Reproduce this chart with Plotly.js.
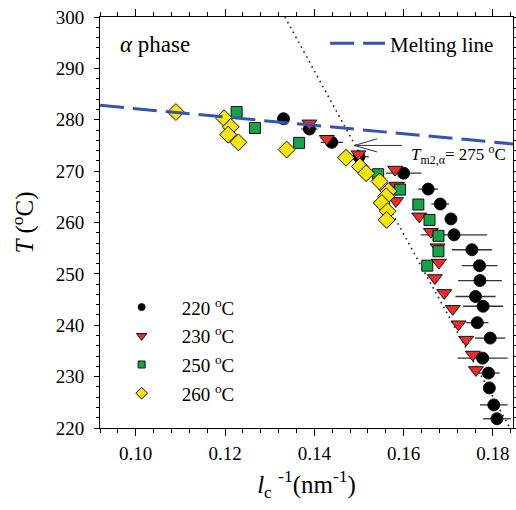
<!DOCTYPE html>
<html><head><meta charset="utf-8">
<script src="https://cdn.plot.ly/plotly-3.0.1.min.js"></script>
<style>html,body{margin:0;padding:0;background:#fff}#chart{width:516px;height:510px}</style>
</head><body><div id="chart"></div>
<script>
// 220 °C (black circles, with horizontal error bars)
const x220 = [0.1331, 0.1389, 0.1439, 0.1500, 0.1600, 0.1655, 0.1682, 0.1706, 0.1713, 0.1753, 0.1770, 0.1771, 0.1761, 0.1778, 0.1765, 0.1794, 0.1777, 0.1790, 0.1792, 0.1802, 0.1809];
const t220 = [280.2, 278.2, 275.6, 272.8, 269.6, 266.5, 263.6, 260.7, 257.6, 254.7, 251.6, 248.7, 245.6, 243.7, 240.5, 237.5, 233.6, 230.7, 227.8, 224.5, 221.8];
const e220 = [0, 0.0018, 0.0025, 0.0022, 0.0040, 0.0022, 0.0020, 0.0007, 0.0074, 0.0045, 0.0040, 0.0049, 0.0045, 0.0045, 0.0025, 0.0034, 0.0056, 0.0025, 0.0009, 0.0031, 0.0031];
// 230 °C (red down-triangles)
const x230 = [0.1389, 0.1428, 0.1499, 0.1581, 0.1585, 0.1583, 0.1635, 0.1661, 0.1676, 0.1679, 0.1670, 0.1691, 0.1710, 0.1723, 0.1740, 0.1755, 0.1762];
const t230 = [279.3, 276.3, 273.3, 270.3, 267.2, 264.2, 261.2, 258.2, 255.2, 252.2, 249.2, 246.3, 243.2, 240.2, 237.2, 234.3, 231.3];
// 250 °C (green squares)
const x250 = [0.1226, 0.1267, 0.1366, 0.1543, 0.1592, 0.1633, 0.1658, 0.1678, 0.1678, 0.1653];
const t250 = [281.5, 278.4, 275.5, 269.4, 266.4, 263.5, 260.5, 257.4, 254.4, 251.6];
// 260 °C (yellow diamonds)
const x260 = [0.1090, 0.1198, 0.1213, 0.1207, 0.1230, 0.1338, 0.1471, 0.1502, 0.1516, 0.1546, 0.1566, 0.1561, 0.1551, 0.1564, 0.1562];
const t260 = [281.5, 280.3, 278.6, 277.1, 275.6, 274.2, 272.6, 270.9, 269.6, 268.0, 266.1, 265.1, 263.8, 262.2, 260.5];
// Melting line and dotted extrapolation line
const meltX = [0.092, 0.1845];
const meltT = [282.8, 275.3];
const dotX = [0.1334, 0.1838];
const dotT = [300, 220];
// labels
const seriesNames = ['220 <sup>o</sup>C', '230 <sup>o</sup>C', '250 <sup>o</sup>C', '260 <sup>o</sup>C'];
const xTicks = [0.10, 0.12, 0.14, 0.16, 0.18];
const yTicks = [220, 230, 240, 250, 260, 270, 280, 290, 300];
const tmLabel = '<i>T</i><sub>m2,α</sub>= 275 <sup>o</sup>C';
const tmX = 0.149, tmT = 275;

const FONT = '"Liberation Serif", "Times New Roman", Times, serif';
const styles = [
  {symbol: 'circle', color: '#000000', size: 12, lsize: 7},
  {symbol: 'triangle-down', color: '#ee2b2b', size: 13, lsize: 9},
  {symbol: 'square', color: '#17a34a', size: 11, lsize: 7},
  {symbol: 'diamond', color: '#f5e60c', size: 13, lsize: 9}
];
const xs = [x220, x230, x250, x260];
const ts = [t220, t230, t250, t260];

const traces = [];
traces.push({x: dotX, y: dotT, mode: 'lines', line: {color: '#222', width: 1.6, dash: '1.6px,4px'}, showlegend: false, hoverinfo: 'skip'});
xs.forEach((xv, i) => {
  const s = styles[i];
  const tr = {
    x: xv, y: ts[i], mode: 'markers', showlegend: false,
    marker: {symbol: s.symbol, color: s.color, size: s.size, line: {color: '#111', width: 1}}
  };
  if (i === 0) tr.error_x = {type: 'data', array: e220, visible: true, color: '#333', thickness: 1.3, width: 0};
  traces.push(tr);
});
// legend proxies
styles.forEach((s, i) => {
  traces.push({x: [null], y: [null], mode: 'markers', name: seriesNames[i], legend: 'legend', legendgroup: 'g' + i, showlegend: true,
    marker: {symbol: s.symbol, color: s.color, size: s.lsize, line: {color: '#111', width: 1}}});
});
traces.push({x: meltX, y: meltT, mode: 'lines', name: 'Melting line', legend: 'legend2', showlegend: true,
  line: {color: '#3853ae', width: 3, dash: '24px,9px'}, hoverinfo: 'skip'});

const axisCommon = {
  showline: true, linecolor: '#000', linewidth: 1, mirror: 'ticks', ticks: 'outside', ticklen: 7, tickwidth: 1,
  tickcolor: '#000', showgrid: false, zeroline: false, tickfont: {family: FONT, size: 19, color: '#000'}
};
const layout = {
  width: 516, height: 510,
  margin: {l: 100, r: 3, t: 17, b: 82},
  paper_bgcolor: '#fff', plot_bgcolor: '#fff',
  font: {family: FONT, color: '#000'},
  xaxis: Object.assign({}, axisCommon, {
    range: [0.092, 0.1845], tickvals: xTicks, ticktext: xTicks.map(v => v.toFixed(2)),
    minor: {dtick: 0.004, tick0: 0.1, ticks: 'outside', ticklen: 4, tickcolor: '#000'},
    ticklabelstandoff: 1,
    title: {text: '<i>l</i><sub>c</sub> <sup>-1</sup>(nm<sup>-1</sup>)', font: {family: FONT, size: 25}, standoff: 12}
  }),
  yaxis: Object.assign({}, axisCommon, {
    range: [220, 300], tickvals: yTicks, ticklen: 5,
    minor: {dtick: 2, tick0: 220, ticks: 'outside', ticklen: 3, tickcolor: '#000'},
    ticklabelstandoff: 6,
    title: {text: '<i>T</i> (<sup>o</sup>C)', font: {family: FONT, size: 25}, standoff: 14}
  }),
  legend: {x: 0.004, y: 0.34, xanchor: 'left', yanchor: 'top', bgcolor: 'rgba(0,0,0,0)', borderwidth: 0, itemwidth: 70,
    tracegroupgap: 1, font: {family: FONT, size: 19, color: '#000'}},
  legend2: {x: 0.545, y: 0.985, xanchor: 'left', yanchor: 'top', bgcolor: 'rgba(0,0,0,0)', borderwidth: 0, itemwidth: 55,
    font: {family: FONT, size: 21, color: '#000'}},
  annotations: [
    {xref: 'paper', yref: 'paper', x: 0.044, y: 0.934, xanchor: 'left', yanchor: 'middle', showarrow: false,
      text: '<i>α</i> phase', font: {family: FONT, size: 23, color: '#000'}},
    {x: 0.1612, y: 273.2, xanchor: 'left', yanchor: 'middle', showarrow: false, text: tmLabel,
      font: {family: FONT, size: 17, color: '#000'}},
    {x: tmX, y: tmT, text: '', showarrow: true, arrowhead: 0, ax: 49, ay: 0, arrowwidth: 1, arrowcolor: '#333'},
    {x: tmX, y: tmT, text: '', showarrow: true, arrowhead: 0, ax: 24, ay: -7, arrowwidth: 1, arrowcolor: '#333'},
    {x: tmX, y: tmT, text: '', showarrow: true, arrowhead: 0, ax: 24, ay: 7, arrowwidth: 1, arrowcolor: '#333'}
  ]
};
Plotly.newPlot('chart', traces, layout, {displayModeBar: false, staticPlot: true});
</script>
</body></html>
